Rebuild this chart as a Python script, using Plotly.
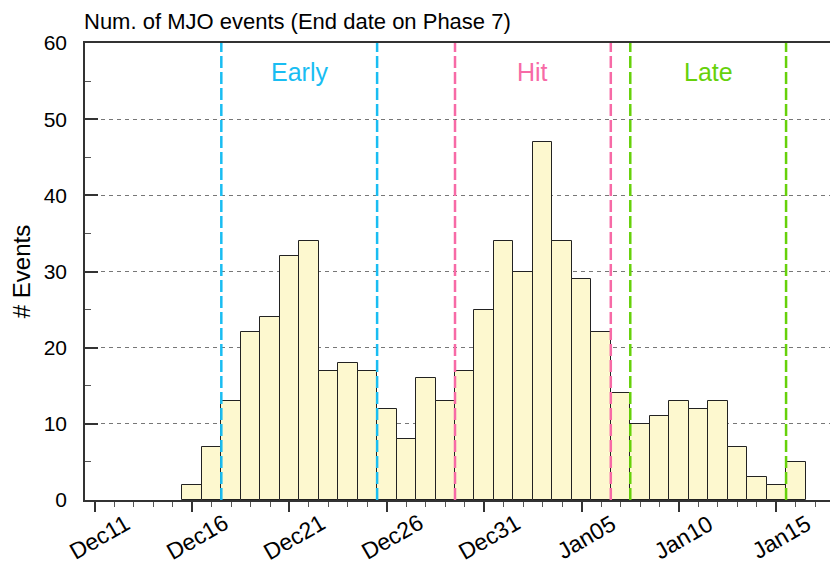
import plotly.graph_objects as go
import pandas as pd

# ---- data ----
dates = pd.date_range("2000-12-16", "2001-01-16", freq="D")
counts = [2, 7, 13, 22, 24, 32, 34, 17, 18, 17,
          12, 8, 16, 13, 17, 25, 34, 30, 47, 34,
          29, 22, 14, 10, 11, 13, 12, 13, 7, 3, 2, 5]
tick_dates = ["2000-12-11", "2000-12-16", "2000-12-21", "2000-12-26",
              "2000-12-31", "2001-01-05", "2001-01-10", "2001-01-15"]
tick_labels = ["Dec11", "Dec16", "Dec21", "Dec26", "Dec31", "Jan05", "Jan10", "Jan15"]
periods = ["Early", "Hit", "Late"]
period_start = ["2000-12-17 12:00", "2000-12-29 12:00", "2001-01-07 12:00"]
period_end = ["2000-12-25 12:00", "2001-01-06 12:00", "2001-01-15 12:00"]
period_colors = ["#19bdf2", "#f76aa6", "#66d10a"]
x_range = ["2000-12-10 12:00", "2001-01-18 04:00"]
y_range = [0, 60]

FONT = "Liberation Sans, Arial, sans-serif"

fig = go.Figure()
fig.add_trace(go.Bar(
    x=dates, y=counts, width=86400000,
    marker=dict(color="#fdf8cf", line=dict(color="#222222", width=1)),
))

for name, s, e, c in zip(periods, period_start, period_end, period_colors):
    for xv in (s, e):
        fig.add_shape(type="line", xref="x", yref="y", x0=xv, x1=xv, y0=0, y1=60,
                      line=dict(color=c, width=2.5, dash="12px,4px"), layer="above")
    mid = pd.Timestamp(s) + (pd.Timestamp(e) - pd.Timestamp(s)) / 2
    fig.add_annotation(x=mid, y=56.2, xref="x", yref="y", text=name, showarrow=False,
                       font=dict(family=FONT, size=25, color=c))

# rotated x tick labels, centred under their ticks
for td, tl in zip(tick_dates, tick_labels):
    fig.add_annotation(x=td, y=0, xref="x", yref="paper", text=tl, showarrow=False,
                       textangle=-30, xanchor="center", yanchor="middle",
                       xshift=5, yshift=-37,
                       font=dict(family=FONT, size=23, color="black"))

fig.add_annotation(xref="paper", yref="paper", x=0, y=1, xanchor="left", yanchor="bottom",
                   yshift=7, xshift=-3, showarrow=False,
                   text="Num. of MJO events (End date on Phase 7)",
                   font=dict(family=FONT, size=22, color="black"))

# the page body adds an 8px margin: the figure is sized to end at the window edge
fig.update_layout(
    width=830, height=557,
    margin=dict(l=77, r=0, t=35, b=65),
    plot_bgcolor="white", paper_bgcolor="white",
    showlegend=False, bargap=0,
    font=dict(family=FONT, color="black"),
)
fig.update_xaxes(
    type="date", range=x_range, automargin=False,
    tickvals=tick_dates, showticklabels=False,
    ticks="outside", ticklen=10, tickwidth=1.5, tickcolor="#333333",
    minor=dict(ticks="outside", ticklen=5, tickwidth=1, tickcolor="#555555",
               dtick=86400000, tick0="2000-12-11", showgrid=False),
    showline=True, linecolor="#333333", linewidth=1.5, mirror=True,
    showgrid=False, zeroline=False,
)
fig.update_yaxes(
    range=y_range, tickvals=[0, 10, 20, 30, 40, 50, 60], automargin=False,
    tickfont=dict(family=FONT, size=21, color="black"),
    ticks="inside", ticklen=13, tickwidth=1.5, tickcolor="#333333",
    ticklabelstandoff=12,
    minor=dict(ticks="inside", ticklen=6, tickwidth=1, tickcolor="#555555",
               dtick=5, showgrid=False),
    showline=True, linecolor="#333333", linewidth=1.5,
    showgrid=True, gridcolor="#777777", gridwidth=1, griddash="4px,4px",
    zeroline=False,
    title=dict(text="# Events", font=dict(family=FONT, size=24, color="black"), standoff=22),
)

fig.write_html("out.html")
